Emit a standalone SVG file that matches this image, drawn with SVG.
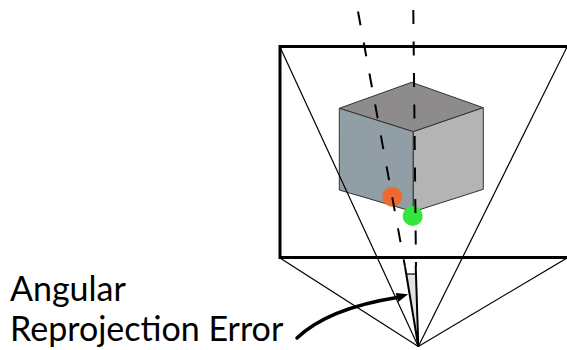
<svg xmlns="http://www.w3.org/2000/svg" width="567" height="350" viewBox="0 0 567 350">
  <style>
    .thin { stroke: #000; stroke-width: 1.2; fill: none; }
    .ray { stroke: #000; stroke-width: 2; fill: none; stroke-dasharray: 14 17.5; }
    .edge { stroke: #333; stroke-width: 1; stroke-linejoin: round; }
    .label { font-family: Lato, "Open Sans", sans-serif; font-size: 34px; fill: #000; }
  </style>
  <rect width="567" height="350" fill="#fff"/>

  <!-- cube -->
  <g id="cube">
    <polygon class="edge" fill="#8e8b8c" points="339.3,108.3 411.7,82.3 483.3,107.7 413.3,131.7"/>
    <polygon class="edge" fill="#929ea5" points="339.3,108.3 413.3,131.7 413.3,211.7 339.3,190"/>
    <polygon class="edge" fill="#b4b4b4" points="413.3,131.7 483.3,107.7 483.3,189.3 413.3,211.7"/>
  </g>

  <!-- observed and reprojected points -->
  <g id="points">
    <circle cx="392.3" cy="196.7" r="10" fill="#ef6a33"/>
    <circle cx="412.7" cy="216" r="10" fill="#33e63c"/>
  </g>

  <g id="connectors">
    <!-- frustum edges to the camera centre -->
    <line class="thin" x1="280" y1="47" x2="418.3" y2="346.5"/>
    <line class="thin" x1="567" y1="47" x2="418.3" y2="346.5"/>
    <line class="thin" x1="280" y1="258" x2="418.3" y2="346.5"/>
    <line class="thin" x1="567" y1="258" x2="418.3" y2="346.5"/>
    <!-- viewing rays -->
    <line class="ray" x1="358" y1="11.5" x2="405" y2="266.5"/>
    <line class="ray" x1="413.3" y1="10" x2="416" y2="266.5"/>
  </g>

  <!-- image plane -->
  <g id="image-plane">
    <polyline fill="none" stroke="#000" stroke-width="3" points="570,46.5 280,46.5 280,257.5 570,257.5"/>
  </g>

  <!-- angle between the two rays -->
  <g id="angle">
    <polygon fill="#e2e2e2" points="406.3,274 416,274 418.3,346.5"/>
    <line stroke="#000" stroke-width="1.2" x1="406.3" y1="274" x2="416" y2="274"/>
    <line stroke="#000" stroke-width="2" x1="405" y1="266.5" x2="418.3" y2="346.5"/>
    <line stroke="#000" stroke-width="2" x1="415.7" y1="266" x2="418.3" y2="346.5"/>
  </g>

  <!-- label and pointer -->
  <g id="label">
    <text class="label" x="10" y="301">Angular</text>
    <text class="label" x="10" y="341">Reprojection Error</text>
    <path d="M297,338 C318,318 350,305 397,297.5" fill="none" stroke="#000" stroke-width="3.5" stroke-linecap="round"/>
    <polygon fill="#000" points="408,294.3 395.7,293 398.3,302"/>
  </g>
</svg>
